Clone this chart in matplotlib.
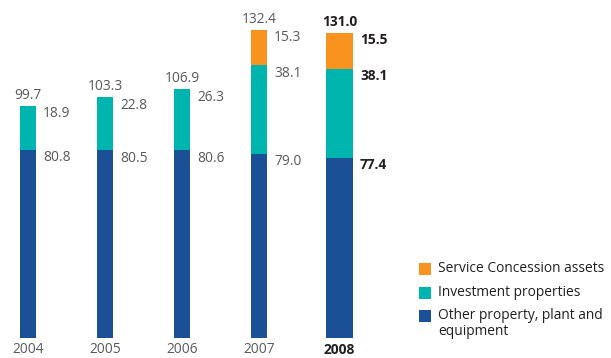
import matplotlib.pyplot as plt
from matplotlib.patches import Rectangle

# ------------------------------------------------------------
# Data
# ------------------------------------------------------------
years = ["2004", "2005", "2006", "2007", "2008"]
other_ppe = [80.8, 80.5, 80.6, 79.0, 77.4]
investment = [18.9, 22.8, 26.3, 38.1, 38.1]
concession = [0.0, 0.0, 0.0, 15.3, 15.5]
totals = [99.7, 103.3, 106.9, 132.4, 131.0]

series_names = [
    "Service Concession assets",
    "Investment properties",
    "Other property, plant and\nequipment",
]

# ------------------------------------------------------------
# Style
# ------------------------------------------------------------
plt.rcParams["font.family"] = ["Open Sans", "DejaVu Sans"]

c_blue = "#1c5096"
c_teal = "#00b5ad"
c_orange = "#f7931e"
c_grey = "#58595b"
c_dark = "#231f20"

x_pos = [0, 1, 2, 3, 4.045]
widths = [0.208, 0.208, 0.208, 0.208, 0.35]

fig = plt.figure(figsize=(6.11, 3.58), dpi=100)
ax = fig.add_axes([0, 0, 1, 1])
ax.set_xlim(-0.364, 7.57)
ax.set_ylim(-8.6, 145.1)
ax.axis("off")

ax.bar(x_pos, other_ppe, width=widths, color=c_blue, linewidth=0)
ax.bar(x_pos, investment, width=widths, bottom=other_ppe, color=c_teal, linewidth=0)
ax.bar(x_pos, concession, width=widths,
       bottom=[a + b for a, b in zip(other_ppe, investment)],
       color=c_orange, linewidth=0)

fs = 9.9
for i, yr in enumerate(years):
    last = i == len(years) - 1
    color = c_dark if last else c_grey
    weight = "bold" if last else "normal"
    x = x_pos[i]
    right = x + widths[i] / 2

    # total above the bar
    ax.annotate(f"{totals[i]:.1f}", (x, totals[i]), xytext=(0, 5),
                textcoords="offset points", ha="center", va="baseline",
                fontsize=fs, color=color, fontweight=weight)

    # segment values to the right of each segment top
    seg_tops = [other_ppe[i], other_ppe[i] + investment[i],
                other_ppe[i] + investment[i] + concession[i]]
    seg_vals = [other_ppe[i], investment[i], concession[i]]
    for top, val in zip(seg_tops, seg_vals):
        if val == 0:
            continue
        ax.annotate(f"{val:.1f}", (right, top), xytext=(5, -8.3),
                    textcoords="offset points", ha="left", va="baseline",
                    fontsize=fs, color=color, fontweight=weight)

    # year label under the bar, kept just inside the bottom edge
    ax.annotate(yr, (x, 0), xycoords=("data", "axes fraction"),
                xytext=(0, 0.8), textcoords="offset points",
                ha="center", va="bottom", fontsize=fs, color=color,
                fontweight=weight)

# ------------------------------------------------------------
# Legend (drawn by hand so the square sits on the first line)
# ------------------------------------------------------------
leg_colors = [c_orange, c_teal, c_blue]
leg_y = [269, 293, 316]
for col, name, yp in zip(leg_colors, series_names, leg_y):
    fy = 1 - yp / 358
    fig.patches.append(Rectangle((419 / 611, fy - 6 / 358), 12 / 611, 12 / 358,
                                 transform=fig.transFigure, color=col,
                                 linewidth=0))
    fig.text(438 / 611, fy + 8 / 358, name, ha="left", va="top",
             fontsize=fs, color=c_dark, linespacing=1.1)

fig.savefig("out.png", dpi=100)
